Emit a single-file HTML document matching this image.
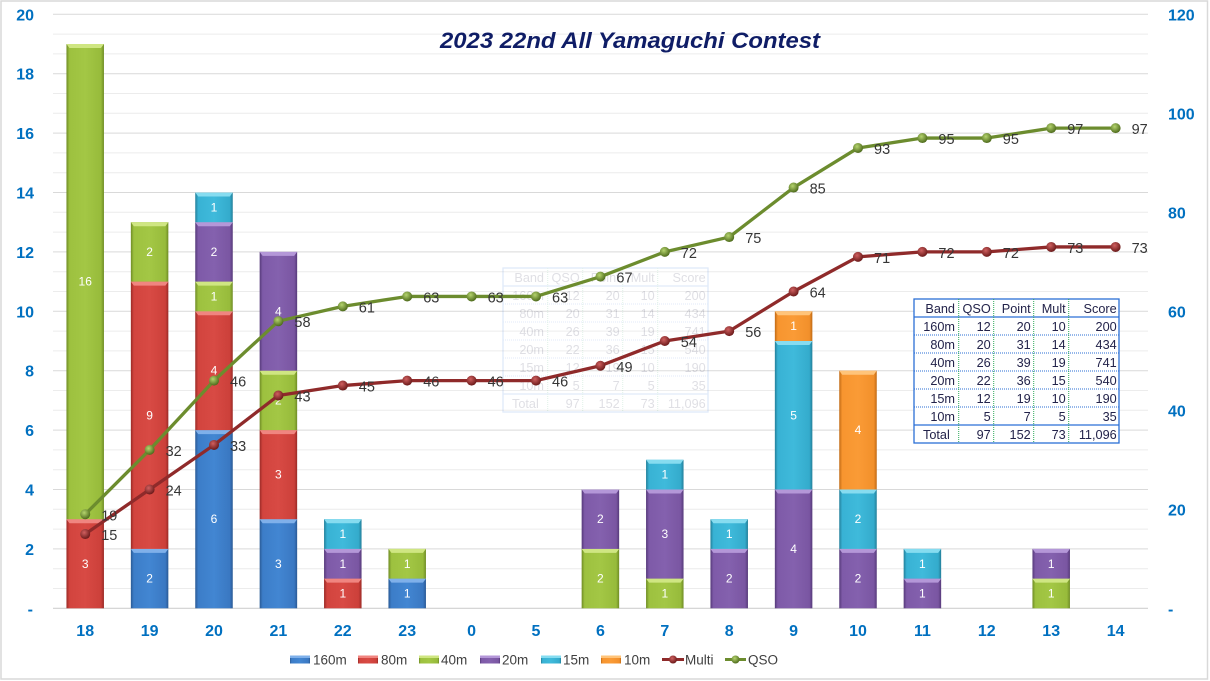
<!DOCTYPE html>
<html><head><meta charset="utf-8"><style>
html,body{margin:0;padding:0;background:#fff;}
svg{display:block;font-family:"Liberation Sans",sans-serif;}
.bl{fill:#fff;font-size:12px;text-anchor:middle;}
.ax{fill:#0070c0;font-size:16px;font-weight:bold;}
.dl{fill:#363636;font-size:14.5px;}
.lg{fill:#404040;font-size:13.5px;}
.tb{fill:#23234a;font-size:12.7px;text-anchor:end;}
</style></head><body>
<svg width="1210" height="681" viewBox="0 0 1210 681" xmlns="http://www.w3.org/2000/svg">
<defs>
<linearGradient id="gB" x1="0" x2="1" y1="0" y2="0"><stop offset="0" stop-color="#2a5a95"/><stop offset="0.08" stop-color="#3c7dc8"/><stop offset="0.5" stop-color="#4286d2"/><stop offset="0.92" stop-color="#3a78c2"/><stop offset="1" stop-color="#2a5a95"/></linearGradient>
<linearGradient id="gR" x1="0" x2="1" y1="0" y2="0"><stop offset="0" stop-color="#9a2a26"/><stop offset="0.08" stop-color="#d2443e"/><stop offset="0.5" stop-color="#d84a44"/><stop offset="0.92" stop-color="#cc403a"/><stop offset="1" stop-color="#9a2a26"/></linearGradient>
<linearGradient id="gG" x1="0" x2="1" y1="0" y2="0"><stop offset="0" stop-color="#6f8c25"/><stop offset="0.08" stop-color="#9dc13f"/><stop offset="0.5" stop-color="#a3c745"/><stop offset="0.92" stop-color="#97bb3b"/><stop offset="1" stop-color="#6f8c25"/></linearGradient>
<linearGradient id="gP" x1="0" x2="1" y1="0" y2="0"><stop offset="0" stop-color="#563a7a"/><stop offset="0.08" stop-color="#7e5aa8"/><stop offset="0.5" stop-color="#8461ae"/><stop offset="0.92" stop-color="#7a56a2"/><stop offset="1" stop-color="#563a7a"/></linearGradient>
<linearGradient id="gC" x1="0" x2="1" y1="0" y2="0"><stop offset="0" stop-color="#237f99"/><stop offset="0.08" stop-color="#38b2d4"/><stop offset="0.5" stop-color="#3fbadb"/><stop offset="0.92" stop-color="#34abcc"/><stop offset="1" stop-color="#237f99"/></linearGradient>
<linearGradient id="gO" x1="0" x2="1" y1="0" y2="0"><stop offset="0" stop-color="#c06a15"/><stop offset="0.08" stop-color="#f7952f"/><stop offset="0.5" stop-color="#fa9b36"/><stop offset="0.92" stop-color="#f2902b"/><stop offset="1" stop-color="#c06a15"/></linearGradient>
<radialGradient id="mG" cx="0.4" cy="0.35" r="0.65"><stop offset="0" stop-color="#b5d46e"/><stop offset="1" stop-color="#4e6b1c"/></radialGradient>
<radialGradient id="mR" cx="0.4" cy="0.35" r="0.65"><stop offset="0" stop-color="#d06060"/><stop offset="1" stop-color="#6b1a1a"/></radialGradient>
</defs>
<rect x="0" y="0" width="1210" height="681" fill="#fff"/>
<rect x="1" y="1" width="1206.5" height="678" fill="none" stroke="#d9d9d9" stroke-width="1.5"/>

<path d="M53 588.5H1148M53 568.7H1148M53 529.1H1148M53 509.3H1148M53 469.7H1148M53 449.9H1148M53 410.3H1148M53 390.5H1148M53 350.9H1148M53 331.1H1148M53 291.5H1148M53 271.7H1148M53 232.1H1148M53 212.3H1148M53 172.7H1148M53 152.9H1148M53 113.3H1148M53 93.5H1148M53 53.9H1148M53 34.1H1148" stroke="#ececec" stroke-width="1" fill="none"/>
<path d="M53 548.9H1148M53 489.5H1148M53 430.1H1148M53 370.7H1148M53 311.3H1148M53 251.9H1148M53 192.5H1148M53 133.1H1148M53 73.7H1148M53 14.3H1148" stroke="#d9d9d9" stroke-width="1" fill="none"/>
<path d="M53 608.3H1148" stroke="#d0d0d0" stroke-width="1.2"/>

<text x="630" y="48" text-anchor="middle" font-size="22" font-weight="bold" font-style="italic" fill="#0f1d66" textLength="380" lengthAdjust="spacingAndGlyphs">2023 22nd All Yamaguchi Contest</text>

<g class="ax" text-anchor="end">
<text x="33" y="614.3">-</text><text x="34" y="554.9">2</text><text x="34" y="495.5">4</text><text x="34" y="436.1">6</text><text x="34" y="376.7">8</text><text x="34" y="317.3">10</text><text x="34" y="257.9">12</text><text x="34" y="198.5">14</text><text x="34" y="139.1">16</text><text x="34" y="79.7">18</text><text x="34" y="20.3">20</text>
</g>
<g class="ax">
<text x="1168" y="614.3">-</text><text x="1168" y="515.3">20</text><text x="1168" y="416.3">40</text><text x="1168" y="317.3">60</text><text x="1168" y="218.3">80</text><text x="1168" y="119.3">100</text><text x="1168" y="20.3">120</text>
</g>
<g class="ax" text-anchor="middle">
<text x="85.2" y="636">18</text><text x="149.6" y="636">19</text><text x="214" y="636">20</text><text x="278.4" y="636">21</text><text x="342.8" y="636">22</text><text x="407.2" y="636">23</text><text x="471.6" y="636">0</text><text x="536" y="636">5</text><text x="600.4" y="636">6</text><text x="664.8" y="636">7</text><text x="729.2" y="636">8</text><text x="793.6" y="636">9</text><text x="858" y="636">10</text><text x="922.4" y="636">11</text><text x="986.8" y="636">12</text><text x="1051.2" y="636">13</text><text x="1115.6" y="636">14</text>
</g>

<g>
<rect x="66.45" y="519.2" width="37.5" height="89.1" fill="url(#gR)"/><path d="M66.45 519.2h37.5l-3 4h-31.5z" fill="#f08580"/>
<rect x="66.45" y="44" width="37.5" height="475.2" fill="url(#gG)"/><path d="M66.45 44h37.5l-3 4h-31.5z" fill="#cfe682"/>
<rect x="130.85" y="548.9" width="37.5" height="59.4" fill="url(#gB)"/><path d="M130.85 548.9h37.5l-3 4h-31.5z" fill="#7fb0ea"/>
<rect x="130.85" y="281.6" width="37.5" height="267.3" fill="url(#gR)"/><path d="M130.85 281.6h37.5l-3 4h-31.5z" fill="#f08580"/>
<rect x="130.85" y="222.2" width="37.5" height="59.4" fill="url(#gG)"/><path d="M130.85 222.2h37.5l-3 4h-31.5z" fill="#cfe682"/>
<rect x="195.25" y="430.1" width="37.5" height="178.2" fill="url(#gB)"/><path d="M195.25 430.1h37.5l-3 4h-31.5z" fill="#7fb0ea"/>
<rect x="195.25" y="311.3" width="37.5" height="118.8" fill="url(#gR)"/><path d="M195.25 311.3h37.5l-3 4h-31.5z" fill="#f08580"/>
<rect x="195.25" y="281.6" width="37.5" height="29.7" fill="url(#gG)"/><path d="M195.25 281.6h37.5l-3 4h-31.5z" fill="#cfe682"/>
<rect x="195.25" y="222.2" width="37.5" height="59.4" fill="url(#gP)"/><path d="M195.25 222.2h37.5l-3 4h-31.5z" fill="#b497d8"/>
<rect x="195.25" y="192.5" width="37.5" height="29.7" fill="url(#gC)"/><path d="M195.25 192.5h37.5l-3 4h-31.5z" fill="#86dcf0"/>
<rect x="259.65" y="519.2" width="37.5" height="89.1" fill="url(#gB)"/><path d="M259.65 519.2h37.5l-3 4h-31.5z" fill="#7fb0ea"/>
<rect x="259.65" y="430.1" width="37.5" height="89.1" fill="url(#gR)"/><path d="M259.65 430.1h37.5l-3 4h-31.5z" fill="#f08580"/>
<rect x="259.65" y="370.7" width="37.5" height="59.4" fill="url(#gG)"/><path d="M259.65 370.7h37.5l-3 4h-31.5z" fill="#cfe682"/>
<rect x="259.65" y="251.9" width="37.5" height="118.8" fill="url(#gP)"/><path d="M259.65 251.9h37.5l-3 4h-31.5z" fill="#b497d8"/>
<rect x="324.05" y="578.6" width="37.5" height="29.7" fill="url(#gR)"/><path d="M324.05 578.6h37.5l-3 4h-31.5z" fill="#f08580"/>
<rect x="324.05" y="548.9" width="37.5" height="29.7" fill="url(#gP)"/><path d="M324.05 548.9h37.5l-3 4h-31.5z" fill="#b497d8"/>
<rect x="324.05" y="519.2" width="37.5" height="29.7" fill="url(#gC)"/><path d="M324.05 519.2h37.5l-3 4h-31.5z" fill="#86dcf0"/>
<rect x="388.45" y="578.6" width="37.5" height="29.7" fill="url(#gB)"/><path d="M388.45 578.6h37.5l-3 4h-31.5z" fill="#7fb0ea"/>
<rect x="388.45" y="548.9" width="37.5" height="29.7" fill="url(#gG)"/><path d="M388.45 548.9h37.5l-3 4h-31.5z" fill="#cfe682"/>
<rect x="581.65" y="548.9" width="37.5" height="59.4" fill="url(#gG)"/><path d="M581.65 548.9h37.5l-3 4h-31.5z" fill="#cfe682"/>
<rect x="581.65" y="489.5" width="37.5" height="59.4" fill="url(#gP)"/><path d="M581.65 489.5h37.5l-3 4h-31.5z" fill="#b497d8"/>
<rect x="646.05" y="578.6" width="37.5" height="29.7" fill="url(#gG)"/><path d="M646.05 578.6h37.5l-3 4h-31.5z" fill="#cfe682"/>
<rect x="646.05" y="489.5" width="37.5" height="89.1" fill="url(#gP)"/><path d="M646.05 489.5h37.5l-3 4h-31.5z" fill="#b497d8"/>
<rect x="646.05" y="459.8" width="37.5" height="29.7" fill="url(#gC)"/><path d="M646.05 459.8h37.5l-3 4h-31.5z" fill="#86dcf0"/>
<rect x="710.45" y="548.9" width="37.5" height="59.4" fill="url(#gP)"/><path d="M710.45 548.9h37.5l-3 4h-31.5z" fill="#b497d8"/>
<rect x="710.45" y="519.2" width="37.5" height="29.7" fill="url(#gC)"/><path d="M710.45 519.2h37.5l-3 4h-31.5z" fill="#86dcf0"/>
<rect x="774.85" y="489.5" width="37.5" height="118.8" fill="url(#gP)"/><path d="M774.85 489.5h37.5l-3 4h-31.5z" fill="#b497d8"/>
<rect x="774.85" y="341" width="37.5" height="148.5" fill="url(#gC)"/><path d="M774.85 341h37.5l-3 4h-31.5z" fill="#86dcf0"/>
<rect x="774.85" y="311.3" width="37.5" height="29.7" fill="url(#gO)"/><path d="M774.85 311.3h37.5l-3 4h-31.5z" fill="#ffc47a"/>
<rect x="839.25" y="548.9" width="37.5" height="59.4" fill="url(#gP)"/><path d="M839.25 548.9h37.5l-3 4h-31.5z" fill="#b497d8"/>
<rect x="839.25" y="489.5" width="37.5" height="59.4" fill="url(#gC)"/><path d="M839.25 489.5h37.5l-3 4h-31.5z" fill="#86dcf0"/>
<rect x="839.25" y="370.7" width="37.5" height="118.8" fill="url(#gO)"/><path d="M839.25 370.7h37.5l-3 4h-31.5z" fill="#ffc47a"/>
<rect x="903.65" y="578.6" width="37.5" height="29.7" fill="url(#gP)"/><path d="M903.65 578.6h37.5l-3 4h-31.5z" fill="#b497d8"/>
<rect x="903.65" y="548.9" width="37.5" height="29.7" fill="url(#gC)"/><path d="M903.65 548.9h37.5l-3 4h-31.5z" fill="#86dcf0"/>
<rect x="1032.45" y="578.6" width="37.5" height="29.7" fill="url(#gG)"/><path d="M1032.45 578.6h37.5l-3 4h-31.5z" fill="#cfe682"/>
<rect x="1032.45" y="548.9" width="37.5" height="29.7" fill="url(#gP)"/><path d="M1032.45 548.9h37.5l-3 4h-31.5z" fill="#b497d8"/>
</g>

<g class="bl">
<text x="85.2" y="567.75">3</text><text x="85.2" y="285.6">16</text>
<text x="149.6" y="582.6">2</text><text x="149.6" y="419.25">9</text><text x="149.6" y="255.9">2</text>
<text x="214" y="523.2">6</text><text x="214" y="374.7">4</text><text x="214" y="300.45">1</text><text x="214" y="255.9">2</text><text x="214" y="211.35">1</text>
<text x="278.4" y="567.75">3</text><text x="278.4" y="478.65">3</text><text x="278.4" y="404.4">2</text><text x="278.4" y="315.3">4</text>
<text x="342.8" y="597.45">1</text><text x="342.8" y="567.75">1</text><text x="342.8" y="538.05">1</text>
<text x="407.2" y="597.45">1</text><text x="407.2" y="567.75">1</text>
<text x="600.4" y="582.6">2</text><text x="600.4" y="523.2">2</text>
<text x="664.8" y="597.45">1</text><text x="664.8" y="538.05">3</text><text x="664.8" y="478.65">1</text>
<text x="729.2" y="582.6">2</text><text x="729.2" y="538.05">1</text>
<text x="793.6" y="552.9">4</text><text x="793.6" y="419.25">5</text><text x="793.6" y="330.15">1</text>
<text x="858" y="582.6">2</text><text x="858" y="523.2">2</text><text x="858" y="434.1">4</text>
<text x="922.4" y="597.45">1</text><text x="922.4" y="567.75">1</text>
<text x="1051.2" y="597.45">1</text><text x="1051.2" y="567.75">1</text>
</g>

<g transform="translate(503,268)" opacity="0.14">
<rect x="0" y="0" width="205" height="144" fill="#fff" stroke="#2b6fd6" stroke-width="1.3"/>
<path d="M0 18H205M0 126H205" stroke="#2b6fd6" stroke-width="1.2"/>
<path d="M0 36H205M0 54H205M0 72H205M0 90H205M0 108H205" stroke="#2b6fd6" stroke-width="1" stroke-dasharray="1 1"/>
<path d="M44.7 0V144M79.7 0V144M119.7 0V144M154.7 0V144" stroke="#2eaa5a" stroke-width="1" stroke-dasharray="1 1"/>
<g class="tb">
<text x="41" y="14">Band</text><text x="76.7" y="14">QSO</text><text x="116.7" y="14">Point</text><text x="151.7" y="14">Mult</text><text x="202.7" y="14">Score</text>
<text x="41" y="32">160m</text><text x="76.7" y="32">12</text><text x="116.7" y="32">20</text><text x="151.7" y="32">10</text><text x="202.7" y="32">200</text>
<text x="41" y="50">80m</text><text x="76.7" y="50">20</text><text x="116.7" y="50">31</text><text x="151.7" y="50">14</text><text x="202.7" y="50">434</text>
<text x="41" y="68">40m</text><text x="76.7" y="68">26</text><text x="116.7" y="68">39</text><text x="151.7" y="68">19</text><text x="202.7" y="68">741</text>
<text x="41" y="86">20m</text><text x="76.7" y="86">22</text><text x="116.7" y="86">36</text><text x="151.7" y="86">15</text><text x="202.7" y="86">540</text>
<text x="41" y="104">15m</text><text x="76.7" y="104">12</text><text x="116.7" y="104">19</text><text x="151.7" y="104">10</text><text x="202.7" y="104">190</text>
<text x="41" y="122">10m</text><text x="76.7" y="122">5</text><text x="116.7" y="122">7</text><text x="151.7" y="122">5</text><text x="202.7" y="122">35</text>
<text x="9" y="140" text-anchor="start">Total</text><text x="76.7" y="140">97</text><text x="116.7" y="140">152</text><text x="151.7" y="140">73</text><text x="202.7" y="140">11,096</text>
</g>
</g>

<polyline fill="none" stroke="#8f2a2a" stroke-width="3.3" stroke-linejoin="round" points="85.2,534.05 149.6,489.5 214,444.95 278.4,395.45 342.8,385.55 407.2,380.6 471.6,380.6 536,380.6 600.4,365.75 664.8,341 729.2,331.1 793.6,291.5 858,256.85 922.4,251.9 986.8,251.9 1051.2,246.95 1115.6,246.95"/>
<polyline fill="none" stroke="#6c8c2e" stroke-width="3.3" stroke-linejoin="round" points="85.2,514.25 149.6,449.9 214,380.6 278.4,321.2 342.8,306.35 407.2,296.45 471.6,296.45 536,296.45 600.4,276.65 664.8,251.9 729.2,237.05 793.6,187.55 858,147.95 922.4,138.05 986.8,138.05 1051.2,128.15 1115.6,128.15"/>
<g fill="url(#mR)">
<circle cx="85.2" cy="534.05" r="5"/><circle cx="149.6" cy="489.5" r="5"/><circle cx="214" cy="444.95" r="5"/><circle cx="278.4" cy="395.45" r="5"/><circle cx="342.8" cy="385.55" r="5"/><circle cx="407.2" cy="380.6" r="5"/><circle cx="471.6" cy="380.6" r="5"/><circle cx="536" cy="380.6" r="5"/><circle cx="600.4" cy="365.75" r="5"/><circle cx="664.8" cy="341" r="5"/><circle cx="729.2" cy="331.1" r="5"/><circle cx="793.6" cy="291.5" r="5"/><circle cx="858" cy="256.85" r="5"/><circle cx="922.4" cy="251.9" r="5"/><circle cx="986.8" cy="251.9" r="5"/><circle cx="1051.2" cy="246.95" r="5"/><circle cx="1115.6" cy="246.95" r="5"/>
</g>
<g fill="url(#mG)">
<circle cx="85.2" cy="514.25" r="5"/><circle cx="149.6" cy="449.9" r="5"/><circle cx="214" cy="380.6" r="5"/><circle cx="278.4" cy="321.2" r="5"/><circle cx="342.8" cy="306.35" r="5"/><circle cx="407.2" cy="296.45" r="5"/><circle cx="471.6" cy="296.45" r="5"/><circle cx="536" cy="296.45" r="5"/><circle cx="600.4" cy="276.65" r="5"/><circle cx="664.8" cy="251.9" r="5"/><circle cx="729.2" cy="237.05" r="5"/><circle cx="793.6" cy="187.55" r="5"/><circle cx="858" cy="147.95" r="5"/><circle cx="922.4" cy="138.05" r="5"/><circle cx="986.8" cy="138.05" r="5"/><circle cx="1051.2" cy="128.15" r="5"/><circle cx="1115.6" cy="128.15" r="5"/>
</g>

<g class="dl">
<text x="101.2" y="520.25">19</text><text x="165.6" y="455.9">32</text><text x="230" y="386.6">46</text><text x="294.4" y="327.2">58</text><text x="358.8" y="312.35">61</text><text x="423.2" y="302.45">63</text><text x="487.6" y="302.45">63</text><text x="552" y="302.45">63</text><text x="616.4" y="282.65">67</text><text x="680.8" y="257.9">72</text><text x="745.2" y="243.05">75</text><text x="809.6" y="193.55">85</text><text x="874" y="153.95">93</text><text x="938.4" y="144.05">95</text><text x="1002.8" y="144.05">95</text><text x="1067.2" y="134.15">97</text><text x="1131.6" y="134.15">97</text>
<text x="101.2" y="540.05">15</text><text x="165.6" y="495.5">24</text><text x="230" y="450.95">33</text><text x="294.4" y="401.45">43</text><text x="358.8" y="391.55">45</text><text x="423.2" y="386.6">46</text><text x="487.6" y="386.6">46</text><text x="552" y="386.6">46</text><text x="616.4" y="371.75">49</text><text x="680.8" y="347">54</text><text x="745.2" y="337.1">56</text><text x="809.6" y="297.5">64</text><text x="874" y="262.85">71</text><text x="938.4" y="257.9">72</text><text x="1002.8" y="257.9">72</text><text x="1067.2" y="252.95">73</text><text x="1131.6" y="252.95">73</text>
</g>

<g transform="translate(914,299)">
<rect x="0" y="0" width="205" height="144" fill="#fff" stroke="#2b6fd6" stroke-width="1.3"/>
<path d="M0 18H205M0 126H205" stroke="#2b6fd6" stroke-width="1.2"/>
<path d="M0 36H205M0 54H205M0 72H205M0 90H205M0 108H205" stroke="#2b6fd6" stroke-width="1" stroke-dasharray="1 1"/>
<path d="M44.7 0V144M79.7 0V144M119.7 0V144M154.7 0V144" stroke="#2eaa5a" stroke-width="1" stroke-dasharray="1 1"/>
<g class="tb">
<text x="41" y="14">Band</text><text x="76.7" y="14">QSO</text><text x="116.7" y="14">Point</text><text x="151.7" y="14">Mult</text><text x="202.7" y="14">Score</text>
<text x="41" y="32">160m</text><text x="76.7" y="32">12</text><text x="116.7" y="32">20</text><text x="151.7" y="32">10</text><text x="202.7" y="32">200</text>
<text x="41" y="50">80m</text><text x="76.7" y="50">20</text><text x="116.7" y="50">31</text><text x="151.7" y="50">14</text><text x="202.7" y="50">434</text>
<text x="41" y="68">40m</text><text x="76.7" y="68">26</text><text x="116.7" y="68">39</text><text x="151.7" y="68">19</text><text x="202.7" y="68">741</text>
<text x="41" y="86">20m</text><text x="76.7" y="86">22</text><text x="116.7" y="86">36</text><text x="151.7" y="86">15</text><text x="202.7" y="86">540</text>
<text x="41" y="104">15m</text><text x="76.7" y="104">12</text><text x="116.7" y="104">19</text><text x="151.7" y="104">10</text><text x="202.7" y="104">190</text>
<text x="41" y="122">10m</text><text x="76.7" y="122">5</text><text x="116.7" y="122">7</text><text x="151.7" y="122">5</text><text x="202.7" y="122">35</text>
<text x="9" y="140" text-anchor="start">Total</text><text x="76.7" y="140">97</text><text x="116.7" y="140">152</text><text x="151.7" y="140">73</text><text x="202.7" y="140">11,096</text>
</g>
</g>

<g>
<rect x="290" y="655.5" width="20" height="8" fill="url(#gB)"/><rect x="290" y="655.5" width="20" height="2.5" fill="#7fb0ea"/>
<rect x="358" y="655.5" width="20" height="8" fill="url(#gR)"/><rect x="358" y="655.5" width="20" height="2.5" fill="#f08580"/>
<rect x="419" y="655.5" width="20" height="8" fill="url(#gG)"/><rect x="419" y="655.5" width="20" height="2.5" fill="#cfe682"/>
<rect x="480" y="655.5" width="20" height="8" fill="url(#gP)"/><rect x="480" y="655.5" width="20" height="2.5" fill="#b497d8"/>
<rect x="541" y="655.5" width="20" height="8" fill="url(#gC)"/><rect x="541" y="655.5" width="20" height="2.5" fill="#86dcf0"/>
<rect x="601" y="655.5" width="20" height="8" fill="url(#gO)"/><rect x="601" y="655.5" width="20" height="2.5" fill="#ffc47a"/>
<path d="M662 659.5H684" stroke="#8f2a2a" stroke-width="3"/><circle cx="673" cy="659.5" r="4" fill="url(#mR)"/>
<path d="M725 659.5H746" stroke="#6c8c2e" stroke-width="3"/><circle cx="735.5" cy="659.5" r="4" fill="url(#mG)"/>
<g class="lg">
<text x="313" y="664.5">160m</text><text x="381" y="664.5">80m</text><text x="441" y="664.5">40m</text><text x="502" y="664.5">20m</text><text x="563" y="664.5">15m</text><text x="624" y="664.5">10m</text><text x="685" y="664.5">Multi</text><text x="748" y="664.5">QSO</text>
</g>
</g>
</svg>
</body></html>
